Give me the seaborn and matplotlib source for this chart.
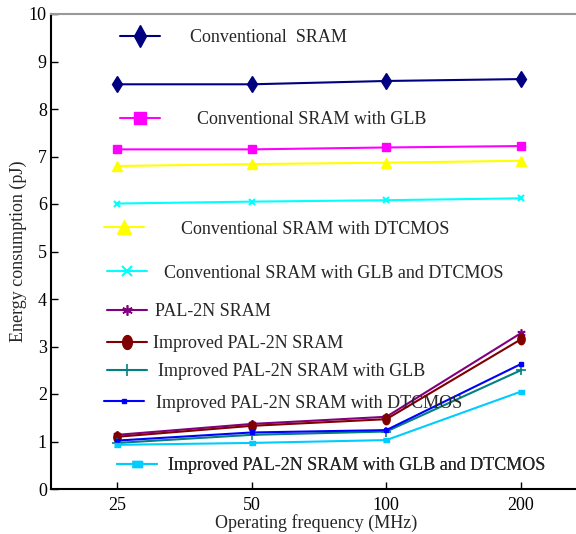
import numpy as np
import matplotlib
matplotlib.use("Agg")
import matplotlib.pyplot as plt
from matplotlib.lines import Line2D
import seaborn as sns

# ------------------------------------------------------------
# data
# ------------------------------------------------------------
freq_labels = ["25", "50", "100", "200"]

conv = [8.52, 8.52, 8.59, 8.63]
conv_glb = [7.15, 7.15, 7.19, 7.22]
conv_dt = [6.80, 6.84, 6.87, 6.91]
conv_glb_dt = [6.01, 6.05, 6.08, 6.12]
pal = [1.14, 1.37, 1.52, 3.28]
imp = [1.10, 1.33, 1.47, 3.15]
imp_glb = [0.97, 1.14, 1.21, 2.50]
imp_dt = [1.02, 1.19, 1.24, 2.63]
imp_glb_dt = [0.93, 0.97, 1.03, 2.05]

names = [
    "Conventional  SRAM",
    "Conventional SRAM with GLB",
    "Conventional SRAM with DTCMOS",
    "Conventional SRAM with GLB and DTCMOS",
    "PAL-2N SRAM",
    "Improved PAL-2N SRAM",
    "Improved PAL-2N SRAM with GLB",
    "Improved PAL-2N SRAM with DTCMOS",
    "Improved PAL-2N SRAM with GLB and DTCMOS",
]
series = [conv, conv_glb, conv_dt, conv_glb_dt, pal, imp, imp_glb, imp_dt, imp_glb_dt]

# marker shapes: flat rectangle and tall ellipse
rect = [(-1, -0.55), (1, -0.55), (1, 0.55), (-1, 0.55)]
t = np.linspace(0, 2 * np.pi, 40)
ellipse = list(zip(0.7 * np.cos(t), np.sin(t)))

styles = [
    dict(color="#000080", marker="d", ms=8, lms=11, mew=1),
    dict(color="#ff00ff", marker="s", ms=6, lms=8, mew=1),
    dict(color="#ffff00", marker="^", ms=6.5, lms=9.5, mew=1),
    dict(color="#00ffff", marker="x", ms=5, lms=7, mew=1.5),
    dict(color="#800080", marker=(6, 2, 0), ms=6, lms=7.5, mew=1.2),
    dict(color="#800000", marker=ellipse, ms=7.5, lms=10, mew=1),
    dict(color="#008080", marker="+", ms=7, lms=9, mew=1.2),
    dict(color="#0000ff", marker="s", ms=2.5, lms=3, mew=1),
    dict(color="#00ccff", marker=rect, ms=4.5, lms=7, mew=1),
]

# legend entry placement: (line start x, y center, handle length, text pad) in px
leg_pos = [
    (120, 38, 2.2, 1.65),
    (120, 120, 2.2, 2.05),
    (104, 229, 2.2, 2.05),
    (107, 273, 2.2, 0.95),
    (107, 312, 2.2, 0.45),
    (107, 344, 2.2, 0.35),
    (107, 372, 2.2, 0.6),
    (104, 403, 2.2, 0.7),
    (117, 466, 2.2, 0.65),
]

# ------------------------------------------------------------
# figure
# ------------------------------------------------------------
sns.set_style("ticks")
plt.rcParams["font.family"] = ["Liberation Serif", "DejaVu Serif"]

W, H = 576, 534
fig = plt.figure(figsize=(W / 100, H / 100), dpi=100)
ax = fig.add_axes([51 / W, 1 - 489 / H, (W - 51) / W + 0.01, (489 - 14) / H])

pos = np.arange(len(freq_labels))
for vals, st in zip(series, styles):
    sns.lineplot(x=pos, y=vals, ax=ax, color=st["color"], marker=st["marker"],
                 markersize=st["ms"], markeredgecolor=st["color"],
                 markeredgewidth=st["mew"], linewidth=1.5)

ax.set_xlim(-0.493, 3.41 + 0.01 * W / 134.5)
ax.set_ylim(0, 10)
ax.set_xticks(pos)
ax.set_xticklabels(freq_labels)
ax.set_yticks(range(0, 11))
ax.tick_params(direction="in", length=5, width=1, labelsize=13, colors="black")
ax.tick_params(axis="y", pad=3)
ax.tick_params(axis="x", pad=6)
ax.set_xlabel("Operating frequency (MHz)", fontsize=13, labelpad=0)
ax.set_ylabel("Energy consumption (pJ)", fontsize=13, labelpad=1)

for s in ["left", "bottom"]:
    ax.spines[s].set_linewidth(1.5)
    ax.spines[s].set_color("black")
ax.spines["top"].set_color("#999999")
ax.spines["top"].set_linewidth(1.5)
ax.spines["right"].set_visible(False)

# scattered legend entries, one legend each
for name, st, (lx, ly, hl, tp) in zip(names, styles, leg_pos):
    h = Line2D([], [], color=st["color"], marker=st["marker"], markersize=st["lms"],
               markeredgecolor=st["color"], markeredgewidth=st["mew"], linewidth=1.5)
    lg = ax.legend(handles=[h], labels=[name], loc="center left",
                   bbox_to_anchor=(lx / W, 1 - ly / H), bbox_transform=fig.transFigure,
                   frameon=False, fontsize=13, handlelength=hl, handletextpad=tp,
                   borderpad=0, borderaxespad=0)
    ax.add_artist(lg)

fig.savefig("out.png", dpi=100)
